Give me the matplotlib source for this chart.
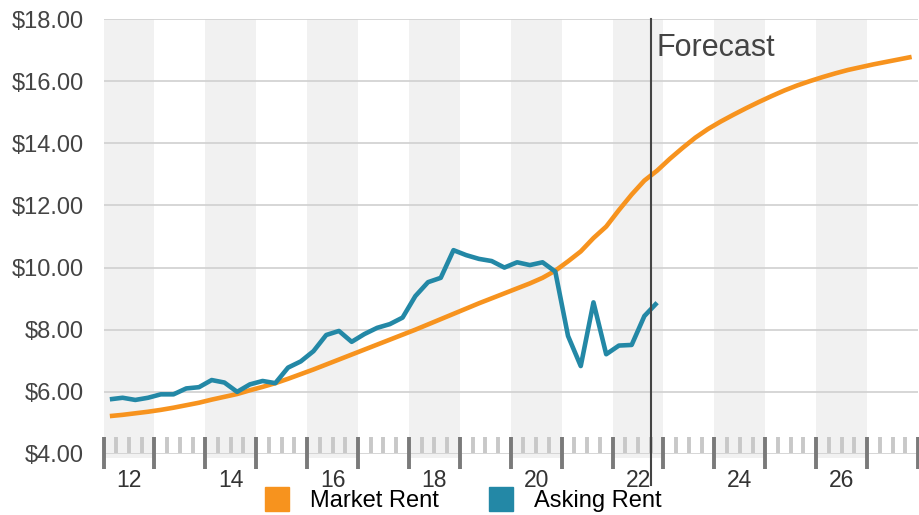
import numpy as np
import matplotlib.pyplot as plt
import matplotlib.transforms as mtransforms
from matplotlib.lines import Line2D

plt.rcParams['font.family'] = ['Liberation Sans', 'DejaVu Sans']

# quarterly values, first quarter = 2012 Q1
market_rent = [5.22, 5.26, 5.31, 5.36, 5.42, 5.49, 5.57, 5.65,
               5.75, 5.84, 5.93, 6.05, 6.16, 6.28, 6.42, 6.57,
               6.72, 6.88, 7.04, 7.20, 7.36, 7.52, 7.68, 7.84,
               8.00, 8.17, 8.34, 8.51, 8.68, 8.85, 9.01, 9.17,
               9.33, 9.49, 9.67, 9.90, 10.20, 10.52, 10.95, 11.32,
               11.85, 12.35, 12.80, 13.12, 13.50, 13.85, 14.18, 14.46,
               14.70, 14.92, 15.13, 15.33, 15.52, 15.70, 15.86, 16.00,
               16.13, 16.25, 16.36, 16.45, 16.54, 16.62, 16.70, 16.78]
asking_rent = [5.76, 5.81, 5.74, 5.81, 5.92, 5.92, 6.11, 6.15,
               6.38, 6.30, 6.00, 6.24, 6.35, 6.28, 6.78, 6.98,
               7.31, 7.83, 7.96, 7.61, 7.86, 8.06, 8.18, 8.39,
               9.08, 9.53, 9.67, 10.56, 10.40, 10.28, 10.21, 10.00,
               10.17, 10.08, 10.17, 9.87, 7.80, 6.83, 8.88, 7.21,
               7.49, 7.51, 8.44, 8.87]
first_year = 2012
last_year = 2027
forecast_start = 2022.75
year_labels = ['12', '14', '16', '18', '20', '22', '24', '26']
y_ticks = [4, 6, 8, 10, 12, 14, 16, 18]

orange = '#f7931e'
teal = '#2388a6'

t_market = first_year + (np.arange(len(market_rent)) + 0.5) / 4
t_asking = first_year + (np.arange(len(asking_rent)) + 0.5) / 4

fig = plt.figure(figsize=(9.19, 5.15), dpi=100)
ax = fig.add_axes([103.5/919, 61/515, 814.5/919, 435/515])
ax.set_xlim(first_year, last_year + 1)
ax.set_ylim(4, 18)

# alternating year bands
for yr in range(first_year, last_year + 1, 2):
    ax.axvspan(yr, yr + 1, ymin=-0.01, ymax=1, color='#f1f1f1', zorder=0, lw=0, clip_on=False)

for v in y_ticks:
    ax.axhline(v, color='#d0d0d0', lw=1.2, zorder=1)

# tick strip along the bottom
trans = mtransforms.blended_transform_factory(ax.transData, ax.transAxes)
quarters = np.arange(first_year * 4, (last_year + 1) * 4 + 1) / 4
minor = [q for q in quarters if q % 1 != 0]
major = [q for q in quarters if q % 1 == 0]
ax.vlines(minor, 0.002, 0.039, transform=trans, color='#c8c8c8', lw=2.8, zorder=2, clip_on=False)
ax.vlines(major, -0.034, 0.039, transform=trans, color='#7a7a7a', lw=2.8, zorder=2, clip_on=False)

ax.plot(t_market, market_rent, color=orange, lw=3.3, zorder=4, solid_capstyle='butt')
ax.plot(t_asking, asking_rent, color=teal, lw=3.3, zorder=5, solid_capstyle='butt')

ax.axvline(forecast_start, ymin=-0.071, ymax=1, color='#444444', lw=1.5, zorder=6, clip_on=False)
ax.text(forecast_start + 0.12, 16.82, 'Forecast', fontsize=22, color='#444444', va='baseline', ha='left')

ax.set_yticks(y_ticks)
ax.set_yticklabels(['${:.2f}'.format(v) for v in y_ticks])
ax.set_xticks([int('20' + s) + 0.5 for s in year_labels])
ax.set_xticklabels(year_labels)
ax.tick_params(axis='y', length=0, pad=14, labelsize=17, labelcolor='#444444')
ax.tick_params(axis='x', length=0, pad=11, labelsize=16.5, labelcolor='#333333')
for s in ax.spines.values():
    s.set_visible(False)

handles = [Line2D([], [], marker='s', markersize=17.3, linestyle='none', color=orange),
           Line2D([], [], marker='s', markersize=17.3, linestyle='none', color=teal)]
fig.legend(handles, ['Market Rent', 'Asking Rent'], loc='center', bbox_to_anchor=(0.5043, 0.027),
           ncol=2, frameon=False, fontsize=17, handlelength=1, handletextpad=0.89, columnspacing=2.16,
           borderpad=0)

fig.savefig('out.png', dpi=100)
